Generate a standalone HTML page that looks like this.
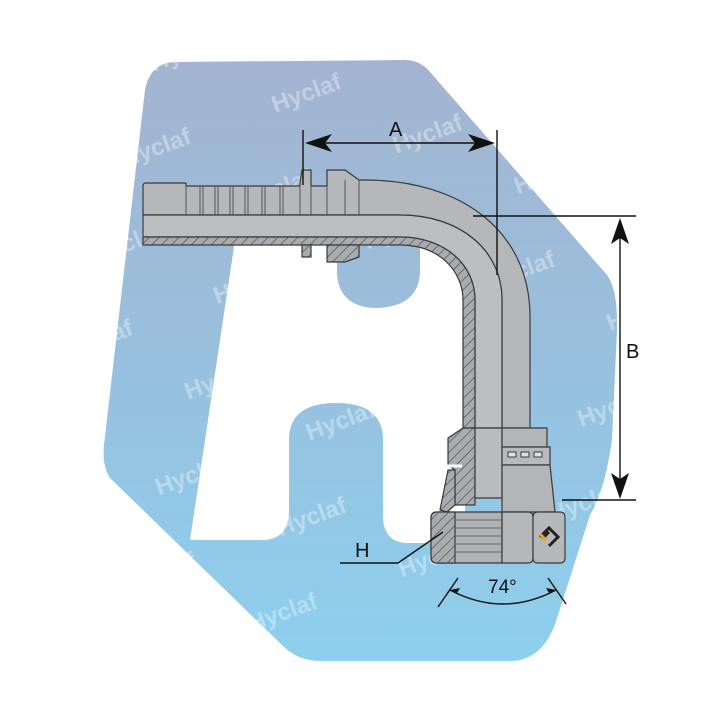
<!DOCTYPE html>
<html><head><meta charset="utf-8"><style>
html,body{margin:0;padding:0;background:#fff;overflow:hidden;width:720px;height:720px;}
svg{display:block}
</style></head><body>
<svg width="720" height="720" viewBox="0 0 720 720" xmlns="http://www.w3.org/2000/svg">
<defs>
<linearGradient id="bg" x1="0" y1="0" x2="0" y2="1">
<stop offset="0" stop-color="#a3b4d0"/>
<stop offset="0.5" stop-color="#98c0de"/>
<stop offset="1" stop-color="#8dd0ee"/>
</linearGradient>
<pattern id="hat" width="7" height="7" patternUnits="userSpaceOnUse" patternTransform="rotate(45)">
<rect width="7" height="7" fill="#a9abae"/>
<line x1="0" y1="0" x2="0" y2="7" stroke="#4a4a4a" stroke-width="1.3"/>
</pattern>
</defs>
<rect width="720" height="720" fill="#fff"/>
<!-- logo background -->
<path d="M175,62 L405,60 Q420,60 430,72 L607,275 Q618,290 617,330 L612,440 Q605,490 590,515 L558,615 Q545,661 510,661 L320,661 Q300,661 285,648 L110,478 Q102,466 104,445 L145,90 Q150,63 175,62 Z" fill="url(#bg)"/>
<!-- white inner n shape -->
<path d="M235,240 L337,240 L337,275 Q340,308 378,308 Q420,306 420,270 L420,240 L465,240 L465,543 L405,543 Q384,541 383,518 L383,440 Q383,403 336,403 Q289,403 289,440 L289,512 Q288,540 262,540 L190,540 Z" fill="#fff"/>
<line x1="500" y1="135" x2="540" y2="192" stroke="#fff" stroke-width="8"/>
<!-- watermarks -->
<g fill="#fff" opacity="0.35" font-family="Liberation Sans, sans-serif" font-weight="bold" font-size="24">
<g transform="rotate(-20)">
<text x="-40" y="120">Hyclaf</text><text x="120" y="120">Hyclaf</text><text x="280" y="120">Hyclaf</text><text x="440" y="120">Hyclaf</text><text x="600" y="120">Hyclaf</text>
<text x="-100" y="200">Hyclaf</text><text x="60" y="200">Hyclaf</text><text x="220" y="200">Hyclaf</text><text x="380" y="200">Hyclaf</text><text x="540" y="200">Hyclaf</text>
<text x="-160" y="280">Hyclaf</text><text x="0" y="280">Hyclaf</text><text x="160" y="280">Hyclaf</text><text x="320" y="280">Hyclaf</text><text x="480" y="280">Hyclaf</text><text x="640" y="280">Hyclaf</text>
<text x="-220" y="360">Hyclaf</text><text x="-60" y="360">Hyclaf</text><text x="100" y="360">Hyclaf</text><text x="260" y="360">Hyclaf</text><text x="420" y="360">Hyclaf</text><text x="580" y="360">Hyclaf</text>
<text x="-280" y="440">Hyclaf</text><text x="-120" y="440">Hyclaf</text><text x="40" y="440">Hyclaf</text><text x="200" y="440">Hyclaf</text><text x="360" y="440">Hyclaf</text><text x="520" y="440">Hyclaf</text>
<text x="-340" y="520">Hyclaf</text><text x="-180" y="520">Hyclaf</text><text x="-20" y="520">Hyclaf</text><text x="140" y="520">Hyclaf</text><text x="300" y="520">Hyclaf</text><text x="460" y="520">Hyclaf</text>
<text x="-400" y="600">Hyclaf</text><text x="-240" y="600">Hyclaf</text><text x="-80" y="600">Hyclaf</text><text x="80" y="600">Hyclaf</text><text x="240" y="600">Hyclaf</text><text x="400" y="600">Hyclaf</text>
<text x="-300" y="680">Hyclaf</text><text x="-140" y="680">Hyclaf</text><text x="20" y="680">Hyclaf</text><text x="180" y="680">Hyclaf</text><text x="340" y="680">Hyclaf</text>
</g></g>

<g stroke="#3a3a3a" stroke-width="1.2" stroke-linejoin="round">
<!-- upper exterior half -->
<path d="M146,183 L186,183 L186,186 L300,186 L300,183 L302,170 L311,170 L311,186 L327,186 L327,170 L345,170 L359,180 L365,180 C460,180 530,230 530,317 L530,428 L502,428 L502,300 C502,250 460,215 400,215 L143,215 L143,186 Q143,183 146,183 Z" fill="#b5b7ba"/>
<g stroke="#555" stroke-width="1">
<line x1="186" y1="186" x2="186" y2="215"/>
<line x1="200" y1="186" x2="200" y2="215"/><line x1="203" y1="186" x2="203" y2="215"/>
<line x1="215" y1="186" x2="215" y2="215"/><line x1="218" y1="186" x2="218" y2="215"/>
<line x1="230" y1="186" x2="230" y2="215"/><line x1="233" y1="186" x2="233" y2="215"/>
<line x1="245" y1="186" x2="245" y2="215"/><line x1="248" y1="186" x2="248" y2="215"/>
<line x1="262" y1="186" x2="262" y2="215"/><line x1="265" y1="186" x2="265" y2="215"/>
<line x1="280" y1="186" x2="280" y2="215"/><line x1="283" y1="186" x2="283" y2="215"/>
<line x1="300" y1="186" x2="300" y2="215"/><line x1="311" y1="186" x2="311" y2="215"/>
<line x1="327" y1="186" x2="327" y2="215"/><line x1="345" y1="180" x2="345" y2="215"/>
<line x1="359" y1="180" x2="359" y2="215"/>
</g>
<!-- section -->
<path d="M143,215 L400,215 C460,215 502,250 502,300 L502,428 L475,428 L475,300 C475,265 445,237 400,237 L143,237 Z" fill="#bcbec0"/>
<path d="M143,237 L400,237 C445,237 475,265 475,300 L475,428 L463,428 L463,300 C463,272 440,245 400,245 L143,245 Z" fill="url(#hat)"/>
<rect x="302" y="245" width="9" height="12" fill="url(#hat)"/>
<path d="M327,245 L359,245 L359,257 L345,262 L327,262 Z" fill="url(#hat)"/>
<!-- lower fitting -->
<path d="M463,428 L475,428 L475,505 L455,505 L455,470 L448,465 L448,438 Z" fill="url(#hat)"/>
<rect x="475" y="428" width="27" height="70" fill="#b9bbbe"/>
<path d="M502,428 L547,428 L547,447 L502,447 Z" fill="#b3b5b8"/>
<path d="M502,447 L550,447 L550,465 L502,465 Z" fill="#b7b9bc"/>
<path d="M502,465 L550,465 L555,512 L502,512 Z" fill="#b3b5b8"/>
<rect x="508" y="452" width="8" height="5" fill="#e0e0e0" stroke-width="1"/>
<rect x="521" y="452" width="8" height="5" fill="#e0e0e0" stroke-width="1"/>
<rect x="534" y="452" width="8" height="5" fill="#e0e0e0" stroke-width="1"/>
<path d="M448,470 L455,470 L455,505 L447,512 L440,510 Z" fill="url(#hat)"/>
<line x1="446" y1="466" x2="462" y2="466" stroke="#fff" stroke-width="3"/>
<!-- nut -->
<path d="M437,512 L502,512 L502,563 L437,563 Q431,563 431,557 L431,518 Q431,512 437,512 Z" fill="#b0b2b5"/>
<path d="M437,512 L455,512 L455,563 L437,563 Q431,563 431,557 L431,518 Q431,512 437,512 Z" fill="url(#hat)"/>
<g stroke="#666" stroke-width="1"><line x1="455" y1="520" x2="502" y2="520"/><line x1="455" y1="528" x2="502" y2="528"/><line x1="455" y1="536" x2="502" y2="536"/><line x1="455" y1="544" x2="502" y2="544"/><line x1="455" y1="552" x2="502" y2="552"/></g>
<path d="M502,512 L528,512 Q533,512 533,517 L533,558 Q533,563 528,563 L502,563 Z" fill="#b5b7ba"/>
<path d="M538,512 L560,512 Q565,512 565,517 L565,558 Q565,563 560,563 L538,563 Q533,563 533,558 L533,517 Q533,512 538,512 Z" fill="#b5b7ba"/>
</g>
<!-- logo on nut -->
<path d="M540,537 L549,528 L558,537 L549,546" fill="none" stroke="#222" stroke-width="3"/>
<path d="M544,537 L549,532" stroke="#222" stroke-width="3"/>
<line x1="540" y1="534" x2="546" y2="540" stroke="#f0a020" stroke-width="3"/>

<!-- dimensions -->
<g stroke="#111" stroke-width="1.4" fill="none">
<line x1="303" y1="130" x2="303" y2="185"/>
<line x1="497" y1="130" x2="497" y2="275"/>
<line x1="310" y1="143" x2="490" y2="143"/>
<line x1="473" y1="216" x2="636" y2="216"/>
<line x1="562" y1="500" x2="636" y2="500"/>
<line x1="620" y1="225" x2="620" y2="492"/>
<polyline points="340,563 398,563 443,532"/>
<path d="M450,590 Q503,618 556,590"/>
<line x1="438" y1="607" x2="458" y2="578"/>
<line x1="548" y1="578" x2="566" y2="604"/>
</g>
<g fill="#111">
<path d="M305,143 L332,134 L325,143 L332,152 Z"/>
<path d="M495,143 L468,134 L475,143 L468,152 Z"/>
<path d="M620,218 L611,244 L620,238 L629,244 Z"/>
<path d="M620,499 L611,473 L620,479 L629,473 Z"/>
<path d="M450,590 L460,588 L457,593 Z"/>
<path d="M556,590 L546,588 L549,593 Z"/>
</g>
<g font-family="Liberation Sans, sans-serif" font-size="20" fill="#111">
<text x="389" y="136">A</text>
<text x="626" y="358">B</text>
<text x="355" y="557">H</text>
<text x="488" y="593" font-size="19">74°</text>
</g>
</svg>
</body></html>
